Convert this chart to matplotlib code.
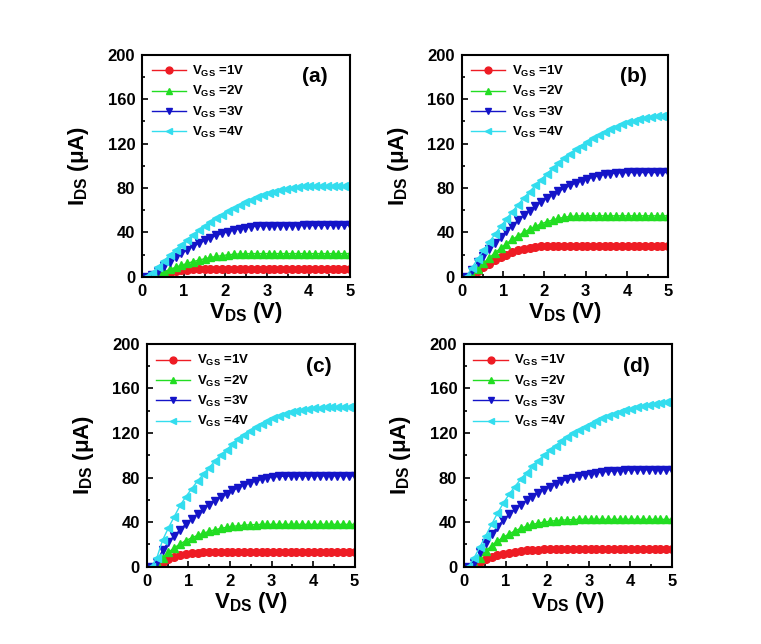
import matplotlib
matplotlib.use('Agg')
import matplotlib.pyplot as plt
from matplotlib.ticker import MultipleLocator

plt.rcParams['font.family'] = ['Liberation Sans', 'DejaVu Sans']
plt.rcParams['font.weight'] = 'bold'
plt.rcParams['mathtext.fontset'] = 'custom'
plt.rcParams['mathtext.rm'] = 'Liberation Sans:bold'
plt.rcParams['mathtext.bf'] = 'Liberation Sans:bold'
plt.rcParams['mathtext.it'] = 'Liberation Sans:bold'

# V_DS sweep (V)
vds = [0.10, 0.24, 0.38, 0.52, 0.66, 0.80, 0.94, 1.08, 1.22, 1.36, 1.50, 1.64,
       1.78, 1.92, 2.06, 2.20, 2.34, 2.48, 2.62, 2.76, 2.90, 3.04, 3.18, 3.32,
       3.46, 3.60, 3.74, 3.88, 4.02, 4.16, 4.30, 4.44, 4.58, 4.72, 4.86, 5.00]

vgs_labels = ['1V', '2V', '3V', '4V']
panel_tags = ['(a)', '(b)', '(c)', '(d)']

# ---- (a) ----
a_vgs1 = [0, 0, 1.0, 2.5, 3.8, 4.9, 5.8, 6.4, 6.8, 7.0, 7.0, 7.1, 7.1, 7.1, 7.1, 7.1, 7.1, 7.2,
          7.2, 7.2, 7.2, 7.2, 7.2, 7.2, 7.2, 7.2, 7.2, 7.2, 7.2, 7.2, 7.2, 7.2, 7.2, 7.2, 7.2, 7.2]
a_vgs2 = [0, 0, 2.2, 4.6, 6.7, 8.7, 10.5, 12.2, 13.8, 15.1, 16.4, 17.5, 18.4, 19.2, 19.9, 20.4, 20.7, 20.9,
          21.0, 21.0, 21.0, 21.0, 21.0, 21.0, 21.0, 21.0, 21.0, 21.0, 21.0, 21.0, 21.0, 21.0, 21.0, 21.0, 21.0, 21.0]
a_vgs3 = [0, 1.3, 5.7, 9.9, 13.8, 17.6, 21.1, 24.4, 27.4, 30.2, 32.8, 35.1, 37.3, 39.1, 40.8, 42.2, 43.4, 44.4,
          45.2, 45.7, 46.0, 46.0, 46.1, 46.1, 46.2, 46.2, 46.2, 46.3, 46.3, 46.3, 46.4, 46.4, 46.4, 46.5, 46.5, 46.5]
a_vgs4 = [0, 3.6, 9.1, 14.3, 19.4, 24.2, 28.9, 33.4, 37.6, 41.8, 45.6, 49.3, 52.7, 56.0, 59.1, 62.0, 64.7, 67.2,
          69.5, 71.6, 73.6, 75.3, 76.8, 78.1, 79.3, 80.2, 80.9, 81.5, 81.8, 82.0, 82.0, 82.0, 82.0, 82.0, 82.0, 82.0]

# ---- (b) ----
b_vgs1 = [0, 1.2, 5.1, 8.7, 11.9, 14.9, 17.6, 19.9, 22.0, 23.8, 25.2, 26.4, 27.2, 27.8, 28.0, 28.0, 28.0, 28.0,
          28.0, 28.0, 28.0, 28.0, 28.0, 28.0, 28.0, 28.0, 28.0, 28.0, 28.0, 28.0, 28.0, 28.0, 28.0, 28.0, 28.0, 28.0]
b_vgs2 = [0, 1.6, 7.1, 12.3, 17.1, 21.7, 26.0, 30.0, 33.7, 37.1, 40.2, 43.0, 45.5, 47.8, 49.7, 51.3, 52.6, 53.7,
          54.4, 54.8, 55.0, 55.0, 55.0, 55.0, 55.0, 55.0, 55.0, 55.0, 55.0, 55.0, 55.0, 55.0, 55.0, 55.0, 55.0, 55.0]
b_vgs3 = [0, 6.6, 13.0, 19.1, 25.1, 30.7, 36.1, 41.3, 46.2, 50.9, 55.4, 59.6, 63.5, 67.3, 70.8, 74.0, 77.0, 79.7,
          82.3, 84.5, 86.5, 88.3, 89.8, 91.2, 92.2, 93.0, 93.6, 93.9, 94.0, 94.0, 94.0, 94.0, 94.0, 94.0, 94.0, 94.0]
b_vgs4 = [0, 8.1, 16.1, 23.8, 31.3, 38.4, 45.4, 52.2, 58.7, 65.0, 71.1, 76.7, 82.4, 87.6, 92.8, 97.7, 102.2, 106.7,
          110.8, 114.7, 118.3, 121.8, 125.0, 127.9, 130.6, 133.1, 135.4, 137.5, 139.2, 140.8, 142.1, 143.1, 143.9, 144.5, 144.9, 145.0]

# ---- (c) ----
c_vgs1 = [0, 0, 4.5, 7.0, 9.0, 10.5, 11.6, 12.3, 12.7, 13.0, 13.0, 13.0, 13.0, 13.0, 13.0, 13.0, 13.0, 13.0,
          13.0, 13.0, 13.0, 13.0, 13.0, 13.0, 13.0, 13.1, 13.1, 13.1, 13.1, 13.1, 13.1, 13.2, 13.2, 13.2, 13.2, 13.2]
c_vgs2 = [0, 3.0, 8.0, 13.0, 17.0, 20.5, 23.5, 26.0, 28.2, 30.1, 31.8, 33.2, 34.4, 35.4, 36.2, 36.8, 37.3, 37.6,
          37.8, 38.0, 38.0, 38.0, 38.0, 38.0, 38.0, 38.0, 38.0, 38.0, 38.0, 38.0, 38.0, 38.0, 38.0, 38.0, 38.0, 38.0]
c_vgs3 = [0, 4.0, 15.0, 22.0, 28.0, 33.0, 38.5, 43.0, 47.5, 51.5, 55.5, 59.0, 62.5, 65.5, 68.5, 71.0, 73.3, 75.3,
          77.0, 78.5, 79.7, 80.5, 81.0, 81.3, 81.3, 81.4, 81.4, 81.4, 81.5, 81.5, 81.5, 81.5, 81.5, 81.5, 81.5, 81.5]
c_vgs4 = [0, 8.0, 24.0, 35.0, 45.0, 55.0, 63.0, 70.0, 77.0, 83.0, 89.0, 95.0, 100.0, 105.0, 110.0, 114.5, 118.5, 122.0,
          125.5, 128.5, 131.0, 133.3, 135.3, 137.0, 138.5, 139.7, 140.7, 141.5, 142.1, 142.6, 143.0, 143.2, 143.4, 143.5, 143.6, 143.6]

# ---- (d) ----
d_vgs1 = [0, 0, 4.0, 6.5, 8.5, 10.2, 11.6, 12.7, 13.6, 14.3, 14.8, 15.1, 15.3, 15.5, 15.5, 15.5, 15.5, 15.5,
          15.5, 15.5, 15.5, 15.5, 15.5, 15.5, 15.5, 15.5, 15.5, 15.5, 15.5, 15.5, 15.5, 15.5, 15.5, 15.5, 15.5, 15.5]
d_vgs2 = [0, 2.0, 8.0, 14.0, 19.0, 23.0, 26.5, 29.5, 32.2, 34.5, 36.4, 37.9, 39.1, 40.1, 40.8, 41.4, 41.8, 42.1,
          42.3, 42.5, 42.5, 42.5, 42.5, 42.5, 42.5, 42.5, 42.5, 42.5, 42.5, 42.5, 42.5, 42.5, 42.5, 42.5, 42.5, 42.5]
d_vgs3 = [0, 3.0, 13.0, 21.0, 29.0, 36.0, 42.0, 47.0, 51.5, 55.5, 59.5, 63.0, 66.3, 69.3, 72.0, 74.4, 76.5, 78.4,
          80.0, 81.4, 82.6, 83.6, 84.4, 85.1, 85.6, 86.0, 86.3, 86.6, 86.8, 87.0, 87.0, 87.0, 87.0, 87.0, 87.0, 87.0]
d_vgs4 = [0, 8.0, 18.0, 28.0, 38.0, 48.0, 57.0, 65.0, 72.0, 78.5, 84.5, 90.0, 95.0, 100.0, 104.5, 108.7, 112.6, 116.3,
          119.7, 122.8, 125.8, 128.5, 131.0, 133.3, 135.4, 137.3, 139.0, 140.6, 142.0, 143.3, 144.5, 145.5, 146.5, 147.3, 148.0, 148.7]

panels = [
    [a_vgs1, a_vgs2, a_vgs3, a_vgs4],
    [b_vgs1, b_vgs2, b_vgs3, b_vgs4],
    [c_vgs1, c_vgs2, c_vgs3, c_vgs4],
    [d_vgs1, d_vgs2, d_vgs3, d_vgs4],
]

colors = ['#ee1c24', '#22dd22', '#1414c8', '#33ddee']
markers = ['o', '^', 'v', '<']

# axes rectangles in figure fractions
rects = [
    [0.187, 0.570, 0.273, 0.345],
    [0.607, 0.570, 0.271, 0.345],
    [0.193, 0.120, 0.273, 0.346],
    [0.610, 0.120, 0.273, 0.346],
]

fig = plt.figure(figsize=(7.61, 6.44), dpi=100)

for i in range(4):
    ax = fig.add_axes(rects[i])
    for j in range(4):
        ax.plot(vds, panels[i][j], color=colors[j], marker=markers[j], markersize=5.5,
                linewidth=1.0, label=r'$\mathregular{V_{GS}}$ =' + vgs_labels[j])
    ax.set_xlim(0, 5)
    ax.set_ylim(0, 200)
    ax.xaxis.set_major_locator(MultipleLocator(1))
    ax.xaxis.set_minor_locator(MultipleLocator(0.5))
    ax.yaxis.set_major_locator(MultipleLocator(40))
    ax.yaxis.set_minor_locator(MultipleLocator(20))
    ax.tick_params(which='both', direction='in', top=False, right=False, labelsize=12, width=1.2)
    ax.tick_params(which='major', length=4, pad=5)
    ax.tick_params(which='minor', length=2.5)
    for lab in ax.get_xticklabels() + ax.get_yticklabels():
        lab.set_fontweight('bold')
    for sp in ax.spines.values():
        sp.set_linewidth(1.5)
    ax.set_xlabel(r'$\mathregular{V_{DS}}$ (V)', fontsize=16, fontweight='bold', labelpad=1)
    ax.set_ylabel(r'$\mathregular{I_{DS}}$ ($\mathregular{\mu}$A)', fontsize=16, fontweight='bold', labelpad=12)
    ax.text(0.83, 0.90, panel_tags[i], transform=ax.transAxes, fontsize=15, fontweight='bold',
            ha='center', va='center')
    ax.legend(loc='upper left', frameon=False, handlelength=2.6, labelspacing=0.4, markerscale=0.9,
              borderaxespad=0.3, handletextpad=0.5, prop={'weight': 'bold', 'size': 9.5})

fig.savefig('out.png', dpi=100)
